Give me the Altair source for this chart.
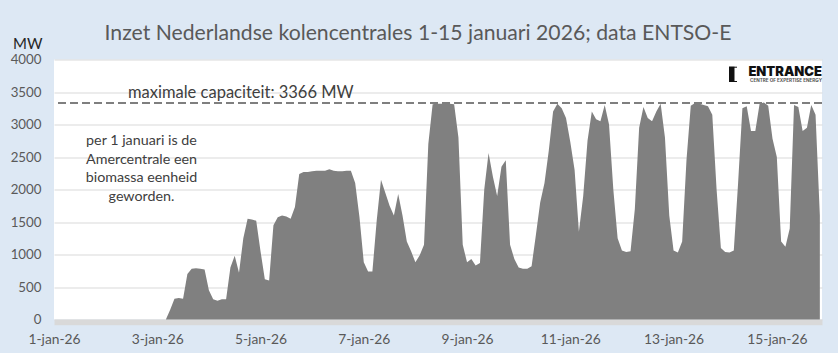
import altair as alt
import pandas as pd

# ---- data ----
titel = "Inzet Nederlandse kolencentrales 1-15 januari 2026; data ENTSO-E"
eenheid = "MW"
capaciteit_label = "maximale capaciteit: 3366 MW"
capaciteit_lijn = [3330]
notitie = ["per 1 januari is de", "Amercentrale een", "biomassa eenheid", "geworden."]

# hours since 1-jan-2026 00:00, every 2 hours
uren = list(range(0, 357, 2))
vermogen = [
    0, 0, 0, 0, 0, 0, 0, 0, 0, 0, 0, 0, 0, 0, 0, 0, 0, 0, 0, 0, 0, 0, 0, 0, 0, 0, 0,
    150, 320, 330, 320, 700, 780, 790, 780, 770, 450, 310, 290, 310, 310,
    800, 980, 720, 1250, 1550, 1540, 1520, 1050, 620, 600,
    1450, 1575, 1600, 1585, 1550, 1730, 2240, 2270, 2270, 2280, 2290, 2290, 2290,
    2310, 2290, 2280, 2280, 2290, 2290, 2100, 1575, 880, 740, 740,
    1520, 2150, 1950, 1750, 1600, 1930, 1600, 1200, 1050, 880, 990, 1150,
    2700, 3310, 3320, 3320, 3320, 3320, 3310, 2800, 1150, 880, 930, 830, 870,
    2000, 2560, 2200, 1900, 2350, 2450, 1150, 930, 800, 780, 780, 820,
    1300, 1800, 2100, 2600, 3200, 3320, 3250, 3100, 2730, 2300, 1350,
    1900, 2750, 3200, 3080, 3050, 3300, 3000, 2000, 1250, 1060, 1040, 1050,
    1700, 2950, 3270, 3100, 3050, 3200, 3320, 2800, 1600, 1060, 1030, 1200,
    2450, 3290, 3330, 3320, 3300, 3280, 3150, 2000, 1100, 1040, 1030, 1060,
    2100, 3250, 3280, 2900, 2900, 3320, 3340, 3290, 2780, 2500, 1200, 1120, 1400,
    3300, 3270, 2900, 2950, 3300, 3150, 1600,
]
dag_ticks = [0, 48, 96, 144, 192, 240, 288, 336]
dag_labels = ["1-jan-26", "3-jan-26", "5-jan-26", "7-jan-26",
              "9-jan-26", "11-jan-26", "13-jan-26", "15-jan-26"]
y_ticks = [0, 500, 1000, 1500, 2000, 2500, 3000, 3500, 4000]

df = pd.DataFrame({"uur": uren, "MW": vermogen})

W, H = 768, 260
FONT = "Lato"
GRAY_TXT = "#595959"

label_expr = "[" + ",".join(f"'{s}'" for s in dag_labels) + "][indexof([" + \
    ",".join(str(v) for v in dag_ticks) + "], datum.value)]"

x_enc = alt.X(
    "uur:Q",
    scale=alt.Scale(domain=[0, 357], nice=False, zero=False),
    axis=alt.Axis(
        values=dag_ticks, labelExpr=label_expr, title=None, grid=False,
        ticks=False, tickSize=0, domain=True, domainColor="#d9d9d9",
        domainWidth=5.5, offset=2.5, labelPadding=10.5, labelFont=FONT,
        labelFontSize=13.8, labelColor=GRAY_TXT, labelAlign="center",
        labelOverlap=False,
    ),
)
y_axis = alt.Axis(
    values=y_ticks, format="d", labelOverlap=False, tickCount=9,
    grid=True, gridColor="#d9d9d9", gridWidth=1,
    domain=False, ticks=False, tickSize=0, labelPadding=13,
    labelFont=FONT, labelFontSize=13.3, labelColor=GRAY_TXT,
    title=eenheid, titleAngle=0, titleAlign="right", titleBaseline="alphabetic",
    titleX=-12, titleY=-11, titleFont=FONT, titleFontSize=15,
    titleFontWeight="normal", titleColor="#262626",
)
y_scale = alt.Scale(domain=[0, 4000], nice=False)

area = alt.Chart(df).mark_area(color="#808080", interpolate="linear").encode(
    x=x_enc, y=alt.Y("MW:Q", scale=y_scale, axis=y_axis))

rule = alt.Chart(pd.DataFrame({"MW": capaciteit_lijn})).mark_rule(
    color="#7f7f7f", strokeWidth=2, strokeDash=[8, 4]
).encode(y=alt.Y("MW:Q", scale=y_scale, axis=y_axis))

one = alt.Data(values=[{"a": 1}])

cap_text = alt.Chart(one).mark_text(
    text=capaciteit_label, font=FONT, fontSize=16.5, color="#404040",
    align="left", baseline="alphabetic",
).encode(x=alt.value(74), y=alt.value(38.5))

note_text = alt.Chart(one).mark_text(
    text=notitie, font=FONT, fontSize=14.3, color="#404040",
    align="center", baseline="alphabetic", lineHeight=18.7,
).encode(x=alt.value(87.5), y=alt.value(85.5))

title_text = alt.Chart(one).mark_text(
    text=titel, font=FONT, fontSize=21.2, color=GRAY_TXT,
    align="center", baseline="alphabetic",
).encode(x=alt.value(364), y=alt.value(-20))

# logo
logo_bar = alt.Chart(one).mark_rect(color="#111111").encode(
    x=alt.value(675), x2=alt.value(680.5), y=alt.value(7.2), y2=alt.value(22.5))
logo_top = alt.Chart(one).mark_rect(color="#111111").encode(
    x=alt.value(675), x2=alt.value(683), y=alt.value(7.2), y2=alt.value(8.2))
logo_bot = alt.Chart(one).mark_rect(color="#111111").encode(
    x=alt.value(675), x2=alt.value(683), y=alt.value(21.5), y2=alt.value(22.5))
logo_text = alt.Chart(one).mark_text(
    text="ENTRANCE", font="Inter", fontWeight=900, fontSize=13, color="#111111",
    align="right", baseline="alphabetic",
).encode(x=alt.value(768), y=alt.value(16.5))
logo_sub = alt.Chart(one).mark_text(
    text="CENTRE OF EXPERTISE ENERGY", font="Inter", fontWeight="bold", fontSize=4.6,
    color="#555555", align="right", baseline="alphabetic",
).encode(x=alt.value(768), y=alt.value(22))

chart = alt.layer(
    area, rule, cap_text, note_text, title_text,
    logo_bar, logo_top, logo_bot, logo_text, logo_sub,
).properties(
    width=W, height=H,
    background="#dde8f4",
    autosize=alt.AutoSizeParams(type="none"),
    padding={"left": 54, "top": 59.5, "right": 16, "bottom": 33.5},
).configure_view(fill="white", stroke=None)

chart.save("out.html", embed_options={"renderer": "svg", "actions": False})
